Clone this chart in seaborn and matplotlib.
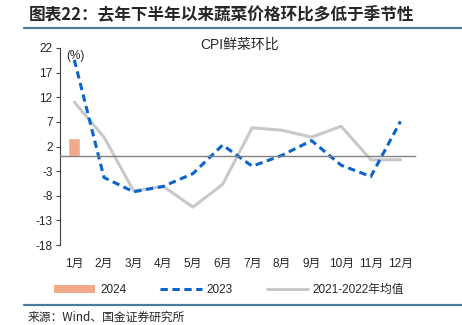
import matplotlib
matplotlib.use("Agg")
import matplotlib.pyplot as plt
import seaborn as sns
import numpy as np
import pandas as pd
from matplotlib.lines import Line2D
from matplotlib.patches import Patch

months = ["1月", "2月", "3月", "4月", "5月", "6月", "7月", "8月", "9月", "10月", "11月", "12月"]
v2024 = [3.7]
v2023 = [19.6, -4.3, -7.2, -6.1, -3.5, 2.3, -2.0, 0.2, 3.2, -1.8, -4.1, 7.1]
vavg = [11.0, 3.9, -7.0, -6.1, -10.3, -5.7, 5.8, 5.3, 3.9, 6.1, -0.7, -0.7]
yticks = [22, 17, 12, 7, 2, -3, -8, -13, -18]

sns.set_style("white")
plt.rcParams["font.family"] = ["Liberation Sans", "Noto Sans CJK SC", "DejaVu Sans"]

fig = plt.figure(figsize=(4.62, 3.25), dpi=100)
ax = fig.add_axes([59.5 / 462, 1 - 245 / 325, (415.3 - 59.5) / 462, (245 - 48) / 325])

c_bar = "#F2A98A"
c_blue = "#0A64CF"
c_gray = "#C8C8C8"

df24 = pd.DataFrame({"m": months[:len(v2024)], "v": v2024})
sns.barplot(data=df24, x="m", y="v", order=months, color=c_bar, width=0.4,
            saturation=1, ax=ax, zorder=2)
x = np.arange(len(months))
sns.lineplot(x=x, y=vavg, color=c_gray, lw=2.2, ax=ax, zorder=3)
sns.lineplot(x=x, y=v2023, color=c_blue, lw=2.2, ax=ax, zorder=4, dashes=False)
ax.lines[-1].set_dashes([2.4, 1.5])

ax.set_xlim(-0.5, 11.5)
ax.set_ylim(-18, 22)
ax.set_yticks(yticks)
ax.set_yticklabels([str(t) for t in yticks], fontsize=8.5)
ax.set_xlabel("")
ax.set_ylabel("")

for s in ["top", "right"]:
    ax.spines[s].set_visible(False)
ax.spines["left"].set_color("#404040")
ax.spines["left"].set_linewidth(0.8)
ax.spines["bottom"].set_position(("data", 0))
ax.spines["bottom"].set_color("#808080")
ax.spines["bottom"].set_linewidth(1.0)
ax.spines["bottom"].set_zorder(5)
ax.set_xticks(np.arange(0.5, 12, 1))
ax.set_xticklabels([])
ax.tick_params(axis="x", direction="out", length=3, width=0.8, color="#404040")
ax.tick_params(axis="y", direction="out", length=3, width=0.8, color="#404040", pad=2, left=True)

sec = ax.secondary_xaxis(0)
sec.set_xticks(x)
sec.set_xticklabels(months, fontsize=8.5)
sec.tick_params(length=0, pad=9)
sec.spines["bottom"].set_visible(False)

ax.text(0.02, 0.96, "(%)", transform=ax.transAxes, fontsize=8.5, va="center", ha="left")
fig.text(240 / 462, 1 - 45 / 325, "CPI鲜菜环比", fontsize=10, ha="center", va="center")

handles = [
    Patch(facecolor=c_bar, edgecolor="none"),
    Line2D([], [], color=c_blue, lw=2.2, dashes=[2.4, 1.5]),
    Line2D([], [], color=c_gray, lw=2.2),
]
fig.legend(handles, ["2024", "2023", "2021-2022年均值"], loc="center",
           bbox_to_anchor=(0.496, 1 - 290 / 325), ncol=3, frameon=False, fontsize=8.5,
           handlelength=3.5, handleheight=0.6, columnspacing=2.9, handletextpad=0.4)

fig.text(29 / 462, 1 - 15 / 325, "图表22：去年下半年以来蔬菜价格环比多低于季节性",
         fontsize=12, fontweight="bold", style="italic", ha="left", va="center",
         family=["Noto Sans CJK SC", "DejaVu Sans"])
fig.add_artist(Line2D([24 / 462, 1], [1 - 27.5 / 325] * 2, color="#4A7C99", lw=1.6,
                      transform=fig.transFigure))
fig.add_artist(Line2D([24 / 462, 1], [1 - 304.5 / 325] * 2, color="#4A7C99", lw=1.6,
                      transform=fig.transFigure))
fig.text(28 / 462, 1 - 317 / 325, "来源：Wind、国金证券研究所", fontsize=8.5,
         ha="left", va="center", family=["Noto Sans CJK SC", "DejaVu Sans"])

fig.savefig("out.png", dpi=100)
